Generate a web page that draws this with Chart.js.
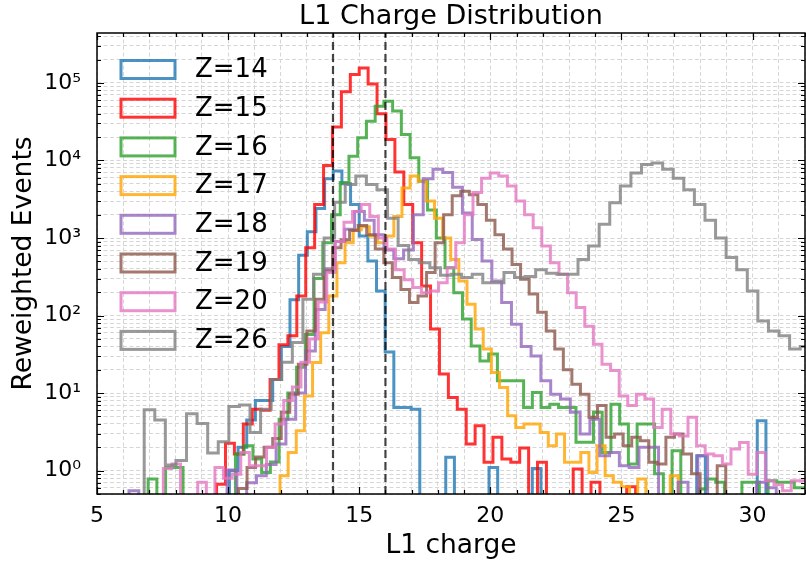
<!DOCTYPE html>
<html>
<head>
<meta charset="utf-8">
<script src="https://cdn.jsdelivr.net/npm/chart.js@4.4.1/dist/chart.umd.min.js"></script>
<style>
  html, body { margin: 0; padding: 0; background: #fff; }
  #wrap { width: 806px; height: 561px; }
</style>
</head>
<body>
<div id="wrap"><canvas id="chart" width="806" height="561"></canvas></div>
<script>
// ---- data ----
const seriesLabels = ['Z=14', 'Z=15', 'Z=16', 'Z=17', 'Z=18', 'Z=19', 'Z=20', 'Z=26'];

// each histogram: first bin edge, bin width, counts per bin
const z14Start = 9.72,  z14Width = 0.33;
const z14Counts = [0, 1.0, 2.0, 4.5, 8, 8, 15, 40, 160, 600, 1200, 2400, 5800, 7300, 5000, 2700,
  1060, 505, 207, 34, 6.5, 6.5, 6.2, 0, 0, 0, 1.49, 0, 0, 0, 0, 1.1, 0, 0, 0, 0, 1.07,
  0, 0, 0, 0, 0, 0, 0, 0, 0, 0, 0, 0, 0, 0, 0, 0, 0, 0, 1.56, 0, 0, 0, 0, 0, 0, 4.4, 0];

const z15Start = 9.56,  z15Width = 0.34;
const z15Counts = [0.67, 2.25, 1.64, 4.0, 6.2, 6.0, 15, 42, 55, 179, 750, 2700, 8600, 27000,
  77000, 128000, 156000, 97000, 40000, 18600, 7100, 2700, 870, 240, 67, 17.6, 8.8, 6.2, 2.2,
  3.8, 1.28, 2.7, 1.41, 1.28, 1.96, 0, 1.28, 0, 0, 0, 1.05, 0, 0.71, 0, 0, 0, 0.62];

const z16Start = 6.95,  z16Width = 0.333;
const z16Counts = [0.78, 0, 1.1, 1.1, 0, 0, 0, 0, 0, 0, 1.64, 2.1, 1.41, 0.95, 1.29, 4.6, 10,
  21.5, 57, 300, 870, 2000, 5200, 11300, 19600, 32000, 50000, 58000, 43500, 21600, 10800,
  5400, 2300, 1000, 414, 197, 90, 40.5, 26, 31.9, 14.4, 14.4, 14.4, 6.5, 10.2, 6.5, 7.2, 6.5,
  6.5, 2.32, 2.32, 5.65, 1.72, 7.2, 4.0, 1.22, 4.0, 4.0, 0.91, 0, 1.81, 0, 0, 0.58, 0.78,
  0.71, 0, 0, 0.71, 0.71, 0, 0.74, 0.71, 0.71, 0.6, 0.6];

const z17Start = 11.98, z17Width = 0.31;
const z17Counts = [0.86, 1.72, 3.27, 9.2, 24.8, 60, 179, 480, 870, 1280, 1400, 1060, 870, 1060,
  1900, 4400, 6300, 5400, 3000, 1800, 1000, 530, 280, 140, 67, 37, 18.5, 11.8, 5.1, 3.6, 4.0,
  4.0, 3.1, 2.1, 2.96, 1.28, 1.28, 1.72, 0.95, 2.1, 0.86, 0.71, 0.62, 0, 0.78, 0, 0, 0, 0.86];

const z18Start = 6.22,  z18Width = 0.374;
const z18Counts = [0.55, 0, 0, 0, 0, 0, 0, 0, 0, 0, 1.02, 0, 0.7, 0.86, 1.2, 2.2, 4.6, 10, 35,
  120, 400, 900, 1300, 2200, 1700, 1100, 700, 540, 700, 2000, 5800, 7700, 7000, 4500, 2100,
  960, 505, 280, 147, 77, 40, 30, 14.4, 9.7, 8.4, 5.65, 2.96, 4.6, 1.56, 1.72, 1.16, 1.1,
  2.0, 2.0, 0, 0, 0.71, 0, 1.56, 0, 0, 0, 0, 0, 0.71, 0.6];

const z19Start = 10.07, z19Width = 0.326;
const z19Counts = [0, 0.59, 1.1, 1.5, 2.0, 2.6, 5.65, 9.7, 23.6, 63, 162, 375, 750, 950, 1250,
  1450, 1100, 720, 480, 310, 217, 147, 179, 360, 870, 2000, 3500, 4000, 3600, 2700, 1700,
  1100, 720, 455, 294, 190, 110, 63, 37, 20, 13, 9.7, 4.9, 6.9, 2.7, 2.96, 2.1, 2.7, 2.43,
  1.28, 1.22, 2.7, 2.96, 1.64, 0.91, 0, 0, 1.16, 0];

const z20Start = 7.53,  z20Width = 0.328;
const z20Counts = [1.07, 1.22, 0, 0, 0.71, 0, 1.1, 0.8, 0.9, 1.72, 1.16, 1.16, 2.0, 4, 8, 12,
  25, 50, 150, 360, 900, 1600, 2200, 2700, 1900, 1000, 720, 390, 290, 230, 197, 207, 265,
  414, 870, 2000, 3850, 5900, 6900, 6300, 4700, 3000, 2000, 1360, 790, 480, 340, 197, 127,
  73, 42.5, 23.6, 19.5, 9.2, 6.9, 9.7, 8.4, 3.6, 6.2, 2.96, 2.8, 4.9, 2.1, 1.64, 1.56, 1.22,
  1.9, 2.3, 0.9, 1.72, 0.74, 0.66, 0.55, 0.74, 0.74];

const z26Start = 6.80,  z26Width = 0.4035;
const z26Counts = [6.1, 4.5, 1.18, 1.35, 5.4, 4.07, 1.69, 2.36, 6.7, 7.0, 3.1, 6.2, 15, 25, 45,
  162, 340, 1000, 2900, 4900, 6300, 4900, 4200, 1800, 800, 530, 480, 414, 330, 340, 310, 340,
  265, 265, 360, 310, 320, 390, 350, 340, 340, 530, 790, 1500, 2850, 4700, 6900, 8900, 9300,
  7700, 5900, 4200, 2700, 1700, 1000, 560, 390, 207, 85, 63, 55, 37, 40];

const cutLines = [14, 16];           // dashed selection window
const xTickLabels = ['5', '10', '15', '20', '25', '30'];
const yTickLabels = ['10\u2070', '10\u00b9', '10\u00b2', '10\u00b3', '10\u2074', '10\u2075'];
const xMin = 5, xMax = 32;
const yMin = 0.5, yMax = 4.4e5;

// ---- styles ----
const seriesColors = [
  'rgba(31,119,180,0.8)', 'rgba(255,0,0,0.8)', 'rgba(44,160,44,0.8)', 'rgba(255,165,0,0.8)',
  'rgba(148,103,189,0.8)', 'rgba(140,86,75,0.8)', 'rgba(227,119,194,0.8)', 'rgba(127,127,127,0.8)'
];
const FONT = '"DejaVu Sans", sans-serif';
const FLOOR = 0.05; // empty bins fall below the axis, like matplotlib on a log scale

const hists = [
  [z14Start, z14Width, z14Counts], [z15Start, z15Width, z15Counts],
  [z16Start, z16Width, z16Counts], [z17Start, z17Width, z17Counts],
  [z18Start, z18Width, z18Counts], [z19Start, z19Width, z19Counts],
  [z20Start, z20Width, z20Counts], [z26Start, z26Width, z26Counts]
];

// step outline of a histogram (histtype='step')
function stepPoints(start, width, counts) {
  const pts = [{x: start, y: FLOOR}];
  counts.forEach((c, i) => {
    const y = c > 0 ? c : FLOOR;
    pts.push({x: start + i * width, y: y});
    pts.push({x: start + (i + 1) * width, y: y});
  });
  pts.push({x: start + counts.length * width, y: FLOOR});
  return pts;
}

const datasets = hists.map((h, i) => ({
  label: seriesLabels[i],
  data: stepPoints(h[0], h[1], h[2]),
  borderColor: seriesColors[i],
  borderWidth: 3,
  borderJoinStyle: 'miter',
  pointRadius: 0,
  fill: false,
  tension: 0,
  clip: 0,
  order: hists.length - i   // later series on top
}));

cutLines.forEach(v => {
  datasets.push({
    label: 'cut ' + v,
    data: [{x: v, y: yMin}, {x: v, y: yMax}],
    borderColor: 'rgba(0,0,0,0.72)',
    borderWidth: 2.2,
    borderDash: [8, 4],
    pointRadius: 0,
    fill: false,
    clip: 0,
    order: 0
  });
});

// tick positions: every unit on x, 1..9 x 10^n on y
const xTickValues = [];
for (let v = xMin; v <= xMax; v++) xTickValues.push(v);
const yTickValues = [];
for (let e = -1; e <= 5; e++) {
  for (let m = 1; m <= 9; m++) {
    const v = m * Math.pow(10, e);
    if (v >= yMin - 1e-9 && v <= yMax) yTickValues.push(v);
  }
}
const isDecade = v => Math.abs(Math.log10(v) - Math.round(Math.log10(v))) < 1e-6;

// spines, inward ticks, title, axis labels, legend
const framePlugin = {
  id: 'frame',
  afterDraw(chart) {
    const {ctx, chartArea: a} = chart;
    const xs = chart.scales.x, ys = chart.scales.y;
    ctx.save();
    ctx.strokeStyle = '#000';
    ctx.lineWidth = 1.2;
    ctx.beginPath();
    xTickValues.forEach(v => {
      const px = Math.round(xs.getPixelForValue(v)) + 0.5;
      const len = v % 5 === 0 ? 7 : 4;
      ctx.moveTo(px, a.bottom); ctx.lineTo(px, a.bottom - len);
      ctx.moveTo(px, a.top); ctx.lineTo(px, a.top + len);
    });
    yTickValues.forEach(v => {
      const py = Math.round(ys.getPixelForValue(v)) + 0.5;
      const len = isDecade(v) ? 7 : 4;
      ctx.moveTo(a.left, py); ctx.lineTo(a.left + len, py);
      ctx.moveTo(a.right, py); ctx.lineTo(a.right - len, py);
    });
    ctx.stroke();

    ctx.lineWidth = 1.5;
    ctx.strokeRect(a.left, a.top, a.right - a.left, a.bottom - a.top);

    // legend
    ctx.font = '26px ' + FONT;
    ctx.textAlign = 'left';
    ctx.textBaseline = 'middle';
    seriesLabels.forEach((lab, i) => {
      const cy = 69.5 + i * 38.7;
      ctx.strokeStyle = seriesColors[i];
      ctx.lineWidth = 3;
      ctx.strokeRect(121, cy - 9, 54, 18);
      ctx.fillStyle = '#000';
      ctx.fillText(lab, 195, cy + 1);
    });

    // title and axis labels
    ctx.fillStyle = '#000';
    ctx.textAlign = 'center';
    ctx.textBaseline = 'alphabetic';
    ctx.font = '27px ' + FONT;
    ctx.fillText('L1 Charge Distribution', (a.left + a.right) / 2, 24);
    ctx.font = '26.5px ' + FONT;
    ctx.fillText('L1 charge', (a.left + a.right) / 2, 553);
    ctx.translate(31, (a.top + a.bottom) / 2);
    ctx.rotate(-Math.PI / 2);
    ctx.fillText('Reweighted Events', 0, 0);
    ctx.restore();
  }
};

const gridStyle = {color: '#d6d6d6', lineWidth: 1, drawTicks: false};

new Chart(document.getElementById('chart'), {
  type: 'line',
  data: {datasets: datasets},
  options: {
    responsive: false,
    animation: false,
    devicePixelRatio: 1,
    layout: {padding: {top: 33, right: 1, bottom: 0, left: 0}},
    plugins: {
      legend: {display: false},
      tooltip: {enabled: false},
      title: {display: false}
    },
    scales: {
      x: {
        type: 'linear',
        min: xMin,
        max: xMax,
        afterFit(s) { s.height = 67; s.paddingLeft = 0; s.paddingRight = 0; },
        afterBuildTicks(s) { s.ticks = xTickValues.map(v => ({value: v})); },
        border: {display: false, dash: [4, 2.5]},
        grid: gridStyle,
        ticks: {
          autoSkip: false,
          maxRotation: 0,
          padding: 9,
          color: '#000',
          font: {family: FONT, size: 22},
          callback: v => (v % 5 === 0 ? xTickLabels[(v - xMin) / 5] : '')
        }
      },
      y: {
        type: 'logarithmic',
        min: yMin,
        max: yMax,
        afterFit(s) { s.width = 97; s.paddingTop = 0; s.paddingBottom = 0; },
        afterBuildTicks(s) { s.ticks = yTickValues.map(v => ({value: v})); },
        border: {display: false, dash: [4, 2.5]},
        grid: gridStyle,
        ticks: {
          autoSkip: false,
          padding: 16,
          color: '#000',
          font: {family: FONT, size: 22},
          callback: v => (isDecade(v) ? yTickLabels[Math.round(Math.log10(v))] : '')
        }
      }
    }
  },
  plugins: [framePlugin]
});
</script>
</body>
</html>
